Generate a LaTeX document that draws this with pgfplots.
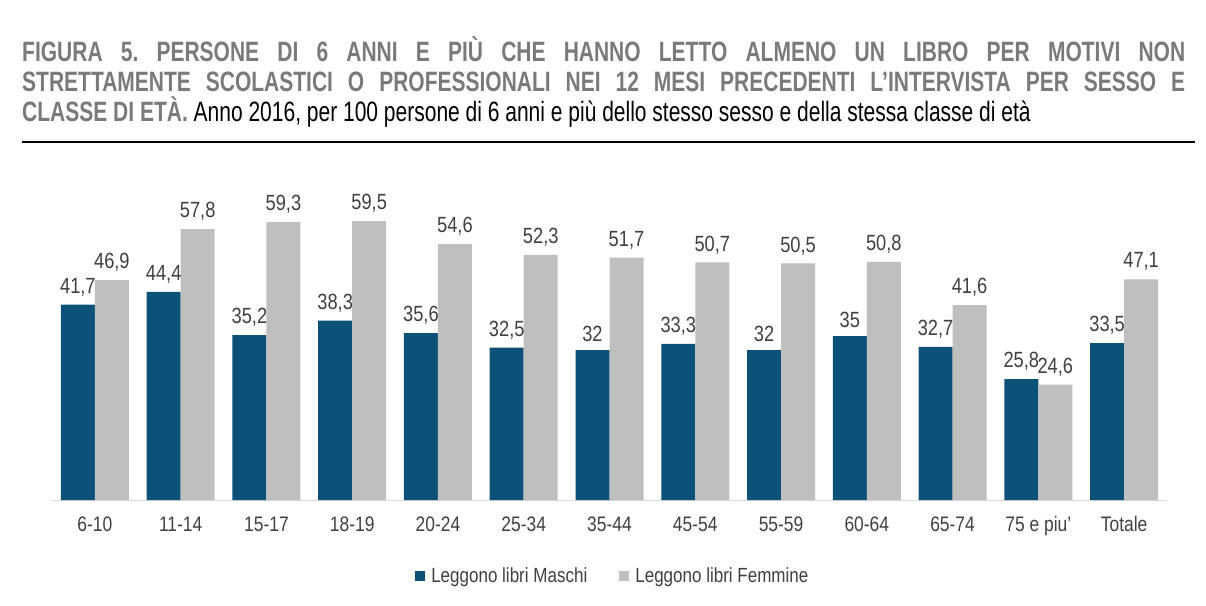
\documentclass[border=0pt]{standalone}
\usepackage{fontspec}
\setmainfont{Liberation Sans}[FakeStretch=0.83]
\newfontfamily\titlefont{Liberation Sans}[FakeStretch=0.75, Ligatures=TeX]
\usepackage{pgfplots}
\pgfplotsset{compat=1.18}
\definecolor{maschi}{HTML}{0C5278}
\definecolor{femmine}{HTML}{BFBFBF}
\definecolor{titolo}{HTML}{7A7A7A}
\definecolor{testo}{HTML}{404040}
\frenchspacing

\begin{document}
\begin{tikzpicture}[x=1pt,y=1pt]
  \useasboundingbox (0,0) rectangle (1206,605);
  % titolo
  \node[anchor=north west, inner sep=0pt, text width=1163pt, align=justify,
        font=\titlefont\fontsize{28}{30}\selectfont] at (22,569)
    {\textcolor{titolo}{\bfseries FIGURA 5. PERSONE DI 6 ANNI E PIÙ CHE HANNO LETTO ALMENO UN LIBRO PER MOTIVI NON\linebreak
     STRETTAMENTE SCOLASTICI O PROFESSIONALI NEI 12 MESI PRECEDENTI L’INTERVISTA PER SESSO E\linebreak
     CLASSE DI ETÀ.} Anno 2016, per 100 persone di 6 anni e più dello stesso sesso e della stessa classe di età};
  \draw[line width=2.5pt] (22,463) -- (1195,463);

  \begin{axis}[
    at={(52pt,105pt)}, anchor=south west,
    scale only axis, width=1115pt, height=328pt,
    xmin=-0.5, xmax=12.5, ymin=0, ymax=70,
    enlargelimits=false, clip=false,
    ybar=0pt, bar width=34pt,
    axis x line*=bottom, axis y line=none,
    axis line style={-, draw=black!15, line width=1pt},
    xtick=data, major tick length=0pt,
    xticklabels={6-10,11-14,15-17,18-19,20-24,25-34,35-44,45-54,55-59,60-64,65-74,{75 e piu'},Totale},
    xticklabel style={font=\fontsize{21}{25}\selectfont, text=testo,
      anchor=north, text height=15pt, text depth=4pt, yshift=-13pt},
    nodes near coords,
    nodes near coords style={font=\fontsize{22}{26}\selectfont, text=testo, yshift=5pt,
      /pgf/number format/use comma, /pgf/number format/assume math mode=true},
    legend style={at={(0.503,-0.232)}, anchor=center, draw=none, fill=none,
      legend columns=-1, font=\fontsize{20.5}{24}\selectfont, text=testo,
      /tikz/every odd column/.append style={column sep=4pt},
      /tikz/every even column/.append style={column sep=30pt}},
  ]
    \addplot[fill=maschi, draw=none,
      legend image code/.code={\fill[maschi] (-6pt,-5pt) rectangle (4pt,5pt);}]
      coordinates {(0,41.7) (1,44.4) (2,35.2) (3,38.3) (4,35.6) (5,32.5) (6,32)
                   (7,33.3) (8,32) (9,35) (10,32.7) (11,25.8) (12,33.5)};
    \addplot[fill=femmine, draw=none,
      legend image code/.code={\fill[femmine] (-6pt,-5pt) rectangle (4pt,5pt);}]
      coordinates {(0,46.9) (1,57.8) (2,59.3) (3,59.5) (4,54.6) (5,52.3) (6,51.7)
                   (7,50.7) (8,50.5) (9,50.8) (10,41.6) (11,24.6) (12,47.1)};
    \legend{Leggono libri Maschi, Leggono libri Femmine}
  \end{axis}
\end{tikzpicture}
\end{document}
